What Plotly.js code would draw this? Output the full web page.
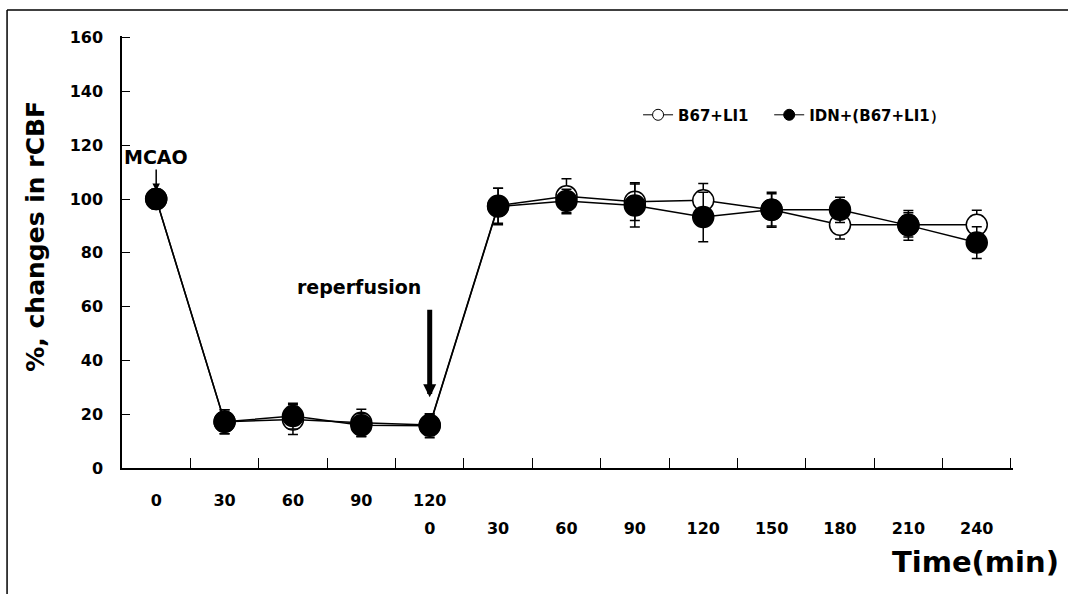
<!DOCTYPE html>
<html>
<head>
<meta charset="utf-8">
<script src="https://cdn.plot.ly/plotly-3.0.1.min.js"></script>
<style>html,body{margin:0;padding:0;background:#fff;}#chart{width:1068px;height:594px;}</style>
</head>
<body>
<div id="chart"></div>
<script>
// Tick labels: ischemia phase (row 1) and reperfusion phase (row 2)
const ischemiaLabels = ["0", "30", "60", "90", "120"];
const reperfusionLabels = ["0", "30", "60", "90", "120", "150", "180", "210", "240"];

// Series: % change in rCBF (mean and error)
const seriesOpenName = "B67+LI1";
const seriesOpenMean = [100, 17.2, 18.0, 16.8, 16.0, 97.5, 101.0, 99.0, 99.5, 96.0, 90.4, 90.4, 90.4];
const seriesOpenErr  = [3.5, 4.5, 5.5, 5.0, 4.0, 6.5, 6.5, 7.0, 6.3, 6.5, 5.3, 4.5, 5.4];

const seriesFilledName = "IDN+(B67+LI1）";
const seriesFilledMean = [100, 17.2, 19.3, 15.9, 15.7, 97.2, 99.3, 97.6, 93.3, 96.0, 96.0, 90.2, 83.8];
const seriesFilledErr  = [3.5, 4.5, 4.8, 4.3, 4.5, 6.8, 4.3, 8.0, 9.2, 6.0, 4.7, 5.5, 5.9];

const nPos = seriesOpenMean.length;
const xIdx = seriesOpenMean.map((_, i) => i);
const row1Vals = ischemiaLabels.map((_, i) => i);
const row2Vals = reperfusionLabels.map((_, i) => i + ischemiaLabels.length - 1);
const boundaryVals = Array.from({length: nPos + 1}, (_, i) => i - 0.5);
const xr = [-0.5, nPos - 0.5 + 0.03];

const F = "DejaVu Sans";
const bold = (size) => ({family: F, size: size, color: "#000", weight: 700});
const NB = "\u00a0";

function series(mean, err, fill) {
  return {
    x: xIdx, y: mean, type: "scatter", mode: "lines+markers", showlegend: false,
    line: {color: "#000", width: 1.5},
    marker: {symbol: "circle", size: 21, color: fill, line: {color: "#000", width: 1.5}},
    error_y: {type: "data", array: err, visible: true, color: "#000", thickness: 1.5, width: 5}
  };
}
function legendEntry(name, fill) {
  return {
    x: [null], y: [null], name: name, type: "scatter", mode: "lines+markers", hoverinfo: "skip",
    line: {color: "#000", width: 1}, marker: {symbol: "circle", size: 11, color: fill, line: {color: "#000", width: 1}}
  };
}

const traces = [
  series(seriesOpenMean, seriesOpenErr, "#fff"),
  series(seriesFilledMean, seriesFilledErr, "#000"),
  legendEntry(seriesOpenName + NB + NB + NB, "#fff"),
  legendEntry(seriesFilledName, "#000"),
  // carriers so that the two label rows (overlaying x axes) are drawn
  {x: row1Vals, y: row1Vals.map(() => null), xaxis: "x2", yaxis: "y", type: "scatter", mode: "markers",
   showlegend: false, hoverinfo: "skip", marker: {opacity: 0}},
  {x: row2Vals, y: row2Vals.map(() => null), xaxis: "x3", yaxis: "y", type: "scatter", mode: "markers",
   showlegend: false, hoverinfo: "skip", marker: {opacity: 0}}
];

const layout = {
  width: 1068, height: 594,
  margin: {l: 122, r: 55, t: 36, b: 126},
  paper_bgcolor: "#fff", plot_bgcolor: "#fff",
  showlegend: true,
  legend: {
    orientation: "h", x: 0.5792, xanchor: "left", y: 0.817, yanchor: "middle",
    font: bold(15), itemsizing: "trace", bgcolor: "rgba(0,0,0,0)", borderwidth: 0
  },
  xaxis: {
    range: xr, tickmode: "array", tickvals: boundaryVals, showticklabels: false,
    ticks: "inside", ticklen: 10, tickwidth: 1, tickcolor: "#000",
    showline: true, linecolor: "#000", linewidth: 1.5, showgrid: false, zeroline: false
  },
  xaxis2: {
    overlaying: "x", anchor: "y", side: "bottom", range: xr,
    tickmode: "array", tickvals: row1Vals, ticktext: ischemiaLabels,
    ticks: "outside", ticklen: 18, tickcolor: "rgba(0,0,0,0)", tickfont: bold(16),
    showline: false, showgrid: false, zeroline: false
  },
  xaxis3: {
    overlaying: "x", anchor: "y", side: "bottom", range: xr,
    tickmode: "array", tickvals: row2Vals, ticktext: reperfusionLabels,
    ticks: "outside", ticklen: 46, tickcolor: "rgba(0,0,0,0)", tickfont: bold(16),
    showline: false, showgrid: false, zeroline: false
  },
  yaxis: {
    range: [0, 160.6], tickmode: "linear", tick0: 0, dtick: 20,
    ticks: "inside", ticklen: 8, tickwidth: 1, tickcolor: "#000",
    ticklabelstandoff: 14, tickfont: bold(16),
    showline: true, linecolor: "#000", linewidth: 1.5, showgrid: false, zeroline: false
  },
  annotations: [
    {xref: "paper", yref: "paper", x: -0.098, y: 0.537, text: "%, changes in rCBF", textangle: -90,
     showarrow: false, xanchor: "center", yanchor: "middle", font: bold(25)},
    {xref: "paper", yref: "paper", x: 1.0539, y: -0.2176, text: "Time(min)",
     showarrow: false, xanchor: "right", yanchor: "middle", font: bold(29)},
    {xref: "x", yref: "y", x: 0, y: 103, text: "MCAO", showarrow: true, ax: 0, ay: -34,
     arrowhead: 2, arrowsize: 1, arrowwidth: 1.5, arrowcolor: "#000", font: bold(19)},
    {xref: "x", yref: "y", x: 2.96, y: 67.4, text: "reperfusion", showarrow: false, font: bold(19)},
    {xref: "x", yref: "y", x: 4, y: 26.3, text: "", showarrow: true, ax: 0, ay: -89,
     arrowhead: 2, arrowsize: 0.52, arrowwidth: 5, arrowcolor: "#000"}
  ],
  shapes: [
    {type: "line", xref: "paper", yref: "paper", x0: -0.129, x1: 1.2, y0: 1.0602, y1: 1.0602, line: {color: "#000", width: 1.5}},
    {type: "line", xref: "paper", yref: "paper", x0: -0.129, x1: -0.129, y0: 1.0602, y1: -0.4, line: {color: "#000", width: 1.5}}
  ]
};

Plotly.newPlot("chart", traces, layout, {displayModeBar: false, responsive: false});
</script>
</body>
</html>
